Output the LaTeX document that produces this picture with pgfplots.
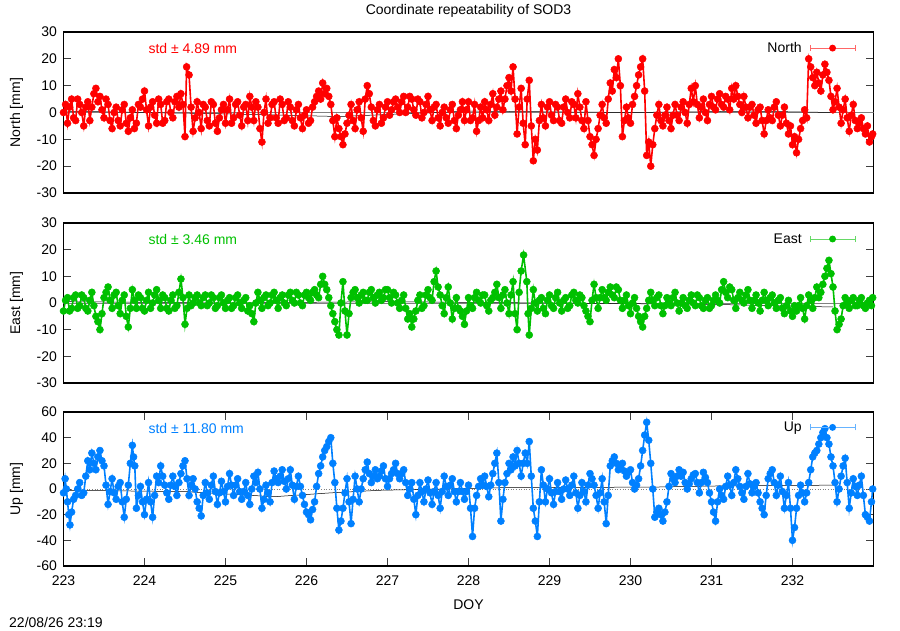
\documentclass[border=0pt]{standalone}
\usepackage{fontspec}
\setmainfont{Liberation Sans}
\usepackage{pgfplots}
\pgfplotsset{compat=1.18}
\definecolor{nred}{RGB}{255,0,0}
\definecolor{egreen}{RGB}{0,192,0}
\definecolor{ublue}{RGB}{0,128,255}
\newcommand{\fs}{\fontsize{14}{16}\selectfont}
\pgfplotsset{
  panel/.style={
    scale only axis, width=810pt, anchor=south west,
    xmin=223, xmax=233,
    axis line style={line width=1.3pt, black},
    tick style={line width=0.8pt, black!75},
    major tick length=8pt, tick align=inside,
    minor tick num=0,
    /pgf/number format/assume math mode=true,
    ticklabel style={font=\fs},
    yticklabel style={xshift=-3pt},
    every axis y label/.style={at={(axis description cs:-0.058,0.5)}, rotate=90, anchor=center, font=\fs},
    legend plot pos=right,
    legend style={draw=none, fill=none, inner sep=0pt, font=\fs, anchor=east, legend cell align=right,
      /tikz/every odd column/.append style={column sep=6pt}},
    clip=true,
  },
  errimg/.style={legend image code/.code={
    \draw[#1!60, line width=0.8pt] (0pt,0pt) -- (45pt,0pt);
    \draw[#1!60, line width=0.8pt] (0pt,-3pt) -- (0pt,3pt) (45pt,-3pt) -- (45pt,3pt);
    \fill[#1] (22.5pt,0pt) circle (2.6pt);
  }},
  dat/.style={#1, line width=1.6pt, mark=*, mark size=3.5pt, mark options={solid, fill=#1, draw=#1, line width=0.5pt}},
}
\begin{document}
\begin{tikzpicture}
\path[use as bounding box] (0,0) rectangle (900pt,630pt);
% ---------------- North ----------------
\begin{axis}[panel, at={(63.5pt,437pt)}, height=161pt,
  ymin=-30, ymax=30, ytick={-30,-20,...,30}, xtick=\empty,
  ylabel={North [mm]},
  title={Coordinate repeatability of SOD3},
  title style={at={(axis description cs:0.5,1)}, anchor=center, yshift=15pt, font=\fs},
  legend style={at={(axis description cs:0.978,0.90)}}]
\addplot[gray, line width=0.6pt, forget plot] coordinates {(223,0) (233,0)};
\addplot[black, line width=0.5pt, forget plot] coordinates {(223,0.5) (225,-0.5) (226.4,-1.5) (228,0.5) (230,0) (231.5,0.5) (232.5,0)};
\addplot[dat=nred, errimg=nred] table[row sep=\\] {
x y\\
223.00 0\\ 223.025 3\\ 223.05 -4\\ 223.075 2\\ 223.10 5\\ 223.125 -2\\ 223.15 -3\\ 223.175 5\\ 223.20 3\\ 223.225 0\\
223.25 -5\\ 223.275 2\\ 223.30 4\\ 223.325 -3\\ 223.35 2\\ 223.375 7\\ 223.40 9\\ 223.425 4\\ 223.45 6\\ 223.475 1\\
223.50 -2\\ 223.525 5\\ 223.55 3\\ 223.575 -3\\ 223.60 -6\\ 223.625 0\\ 223.65 2\\ 223.675 -3\\ 223.70 -5\\ 223.725 1\\
223.75 3\\ 223.775 -4\\ 223.80 -7\\ 223.825 -2\\ 223.85 1\\ 223.875 -6\\ 223.90 -4\\ 223.925 3\\ 223.95 2\\ 223.975 5\\
224.00 8\\ 224.025 1\\ 224.05 -5\\ 224.075 2\\ 224.10 4\\ 224.125 -1\\ 224.15 -4\\ 224.175 5\\ 224.20 3\\ 224.225 -4\\
224.25 -3\\ 224.275 4\\ 224.30 5\\ 224.325 0\\ 224.35 -2\\ 224.375 4\\ 224.40 6\\ 224.425 2\\ 224.45 7\\ 224.475 3\\
224.50 -9\\ 224.52 17\\ 224.55 14\\ 224.575 2\\ 224.60 -7\\ 224.625 -2\\ 224.65 4\\ 224.675 0\\ 224.70 -6\\ 224.725 3\\
224.75 2\\ 224.775 -3\\ 224.80 -5\\ 224.825 4\\ 224.85 3\\ 224.875 -4\\ 224.90 -7\\ 224.925 -2\\ 224.95 1\\ 224.975 3\\
225.00 -4\\ 225.025 1\\ 225.05 5\\ 225.075 -4\\ 225.10 -2\\ 225.125 3\\ 225.15 4\\ 225.175 -1\\ 225.20 -5\\ 225.225 2\\
225.25 3\\ 225.275 -3\\ 225.30 6\\ 225.325 2\\ 225.35 -3\\ 225.375 4\\ 225.40 2\\ 225.425 -6\\ 225.45 -11\\ 225.475 0\\
225.50 5\\ 225.525 -4\\ 225.55 -2\\ 225.575 3\\ 225.60 4\\ 225.625 -2\\ 225.65 -4\\ 225.675 5\\ 225.70 3\\ 225.725 -3\\
225.75 -2\\ 225.775 4\\ 225.80 2\\ 225.825 -3\\ 225.85 -5\\ 225.875 1\\ 225.90 3\\ 225.925 -2\\ 225.95 -6\\ 225.975 -1\\
226.00 1\\ 226.025 -4\\ 226.05 -3\\ 226.075 2\\ 226.10 4\\ 226.125 6\\ 226.15 8\\ 226.175 5\\ 226.20 11\\ 226.225 7\\
226.25 9\\ 226.275 6\\ 226.30 3\\ 226.325 -3\\ 226.35 -9\\ 226.375 -2\\ 226.40 -6\\ 226.425 -9\\ 226.45 -12\\ 226.475 -8\\
226.50 -4\\ 226.525 -1\\ 226.55 3\\ 226.575 -3\\ 226.60 -6\\ 226.625 1\\ 226.65 4\\ 226.675 -2\\ 226.70 -7\\ 226.725 5\\
226.75 10\\ 226.775 7\\ 226.80 2\\ 226.825 -3\\ 226.85 -5\\ 226.875 1\\ 226.90 3\\ 226.925 -4\\ 226.95 -2\\ 226.975 2\\
227.00 4\\ 227.025 -1\\ 227.05 1\\ 227.075 4\\ 227.10 5\\ 227.125 2\\ 227.15 0\\ 227.175 4\\ 227.20 6\\ 227.225 0\\
227.25 2\\ 227.275 6\\ 227.30 5\\ 227.325 1\\ 227.35 -1\\ 227.375 5\\ 227.40 4\\ 227.425 -2\\ 227.45 0\\ 227.475 3\\
227.50 6\\ 227.525 1\\ 227.55 -3\\ 227.575 2\\ 227.60 3\\ 227.625 -2\\ 227.65 -5\\ 227.675 0\\ 227.70 2\\ 227.725 -2\\
227.75 -4\\ 227.775 1\\ 227.80 3\\ 227.825 -3\\ 227.85 -6\\ 227.875 -1\\ 227.90 1\\ 227.925 4\\ 227.95 -3\\ 227.975 1\\
228.00 4\\ 228.025 -3\\ 228.05 -2\\ 228.075 3\\ 228.10 -7\\ 228.125 -3\\ 228.15 2\\ 228.175 -2\\ 228.20 4\\ 228.225 1\\
228.25 -3\\ 228.275 3\\ 228.30 7\\ 228.325 -1\\ 228.35 2\\ 228.375 5\\ 228.40 8\\ 228.425 1\\ 228.45 5\\ 228.475 10\\
228.50 13\\ 228.525 8\\ 228.55 17\\ 228.575 5\\ 228.60 -8\\ 228.625 2\\ 228.65 9\\ 228.675 -4\\ 228.70 -12\\ 228.725 5\\
228.75 12\\ 228.775 -5\\ 228.80 -18\\ 228.825 -10\\ 228.85 -14\\ 228.875 -3\\ 228.90 3\\ 228.925 -2\\ 228.95 -5\\ 228.975 2\\
229.00 4\\ 229.025 -1\\ 229.05 -3\\ 229.075 3\\ 229.10 2\\ 229.125 -3\\ 229.15 -4\\ 229.175 2\\ 229.20 5\\ 229.225 0\\
229.25 -2\\ 229.275 4\\ 229.30 3\\ 229.325 -2\\ 229.35 7\\ 229.375 2\\ 229.40 -3\\ 229.425 -6\\ 229.45 4\\ 229.475 -3\\
229.50 -9\\ 229.525 -12\\ 229.55 -16\\ 229.575 -10\\ 229.60 -6\\ 229.625 -1\\ 229.65 3\\ 229.675 -2\\ 229.70 -4\\ 229.725 5\\
229.75 11\\ 229.775 8\\ 229.80 16\\ 229.825 13\\ 229.85 20\\ 229.875 10\\ 229.90 -9\\ 229.925 -3\\ 229.95 2\\ 229.975 -2\\
230.00 -4\\ 230.025 3\\ 230.05 6\\ 230.075 10\\ 230.10 14\\ 230.125 17\\ 230.15 20\\ 230.175 8\\ 230.20 -16\\ 230.225 -11\\
230.25 -20\\ 230.275 -12\\ 230.30 -6\\ 230.325 -1\\ 230.35 3\\ 230.375 -3\\ 230.40 -5\\ 230.425 -1\\ 230.45 2\\ 230.475 -3\\
230.50 -6\\ 230.525 -1\\ 230.55 3\\ 230.575 -1\\ 230.60 -3\\ 230.625 2\\ 230.65 4\\ 230.675 0\\ 230.70 -4\\ 230.725 3\\
230.75 9\\ 230.775 4\\ 230.80 10\\ 230.825 3\\ 230.85 -2\\ 230.875 2\\ 230.90 5\\ 230.925 0\\ 230.95 -3\\ 230.975 3\\
231.00 6\\ 231.025 2\\ 231.05 1\\ 231.075 5\\ 231.10 7\\ 231.125 3\\ 231.15 2\\ 231.175 6\\ 231.20 5\\ 231.225 1\\
231.25 9\\ 231.275 5\\ 231.30 10\\ 231.325 6\\ 231.35 3\\ 231.375 0\\ 231.40 6\\ 231.425 2\\ 231.45 -2\\ 231.475 2\\
231.50 3\\ 231.525 -1\\ 231.55 -4\\ 231.575 1\\ 231.60 2\\ 231.625 -3\\ 231.65 -8\\ 231.675 -3\\ 231.70 1\\ 231.725 -2\\
231.75 -3\\ 231.775 2\\ 231.80 4\\ 231.825 -1\\ 231.85 -5\\ 231.875 -1\\ 231.90 2\\ 231.925 -4\\ 231.95 -8\\ 231.975 -5\\
232.00 -12\\ 232.025 -9\\ 232.05 -15\\ 232.075 -10\\ 232.10 -6\\ 232.125 -3\\ 232.15 1\\ 232.175 -2\\ 232.20 20\\ 232.225 17\\
232.25 13\\ 232.275 10\\ 232.30 15\\ 232.325 11\\ 232.35 8\\ 232.375 14\\ 232.40 18\\ 232.425 15\\ 232.45 12\\ 232.475 6\\
232.50 1\\ 232.525 4\\ 232.55 9\\ 232.575 2\\ 232.60 -4\\ 232.625 1\\ 232.65 5\\ 232.675 -2\\ 232.70 -7\\ 232.725 -1\\
232.75 3\\ 232.775 -3\\ 232.80 -6\\ 232.825 -4\\ 232.85 -2\\ 232.875 -6\\ 232.90 -8\\ 232.925 -5\\ 232.95 -11\\ 232.975 -9\\
232.99 -8\\
};
\addlegendentry{North}
\node[anchor=west, text=nred, font=\fs] at (axis description cs:0.1006,0.90) {std ± 4.89 mm};
\end{axis}
% ---------------- East ----------------
\begin{axis}[panel, at={(63.5pt,247pt)}, height=160pt,
  ymin=-30, ymax=30, ytick={-30,-20,...,30}, xtick=\empty,
  ylabel={East [mm]},
  legend style={at={(axis description cs:0.978,0.90)}}]
\addplot[gray, line width=0.6pt, forget plot] coordinates {(223,0) (233,0)};
\addplot[black, line width=0.5pt, forget plot] coordinates {(223,0.5) (225,0) (227,0.5) (229,0) (231,-0.5) (232.5,-1.5)};
\addplot[dat=egreen, errimg=egreen] table[row sep=\\] {
x y\\
223.00 -3\\ 223.025 1\\ 223.05 2\\ 223.075 -3\\ 223.10 -2\\ 223.125 2\\ 223.15 3\\ 223.175 -2\\ 223.20 -1\\ 223.225 3\\
223.25 2\\ 223.275 -2\\ 223.30 -3\\ 223.325 1\\ 223.35 4\\ 223.375 -1\\ 223.40 -5\\ 223.425 -7\\ 223.45 -10\\ 223.475 -4\\
223.50 2\\ 223.525 4\\ 223.55 6\\ 223.575 1\\ 223.60 -2\\ 223.625 3\\ 223.65 4\\ 223.675 -1\\ 223.70 -4\\ 223.725 1\\
223.75 3\\ 223.775 -5\\ 223.80 -9\\ 223.825 -2\\ 223.85 5\\ 223.875 1\\ 223.90 -2\\ 223.925 3\\ 223.95 2\\ 223.975 -2\\
224.00 -3\\ 224.025 1\\ 224.05 4\\ 224.075 -2\\ 224.10 0\\ 224.125 3\\ 224.15 5\\ 224.175 1\\ 224.20 -2\\ 224.225 3\\
224.25 2\\ 224.275 -2\\ 224.30 -3\\ 224.325 1\\ 224.35 3\\ 224.375 -2\\ 224.40 -1\\ 224.425 4\\ 224.45 9\\ 224.475 2\\
224.50 -8\\ 224.525 -2\\ 224.55 3\\ 224.575 -1\\ 224.60 0\\ 224.625 2\\ 224.65 3\\ 224.675 0\\ 224.70 -1\\ 224.725 2\\
224.75 3\\ 224.775 -1\\ 224.80 0\\ 224.825 3\\ 224.85 2\\ 224.875 -2\\ 224.90 -1\\ 224.925 2\\ 224.95 3\\ 224.975 0\\
225.00 -2\\ 225.025 1\\ 225.05 2\\ 225.075 -2\\ 225.10 -1\\ 225.125 2\\ 225.15 3\\ 225.175 0\\ 225.20 -2\\ 225.225 1\\
225.25 2\\ 225.275 -3\\ 225.30 -1\\ 225.325 -4\\ 225.35 -7\\ 225.375 0\\ 225.40 4\\ 225.425 1\\ 225.45 -2\\ 225.475 2\\
225.50 3\\ 225.525 -1\\ 225.55 0\\ 225.575 3\\ 225.60 4\\ 225.625 1\\ 225.65 -2\\ 225.675 2\\ 225.70 3\\ 225.725 0\\
225.75 -1\\ 225.775 3\\ 225.80 4\\ 225.825 1\\ 225.85 0\\ 225.875 4\\ 225.90 3\\ 225.925 0\\ 225.95 -1\\ 225.975 3\\
226.00 4\\ 226.025 2\\ 226.05 1\\ 226.075 4\\ 226.10 5\\ 226.125 3\\ 226.15 2\\ 226.175 7\\ 226.20 10\\ 226.225 7\\
226.25 5\\ 226.275 2\\ 226.30 -1\\ 226.325 -4\\ 226.35 -7\\ 226.375 -10\\ 226.40 -12\\ 226.425 0\\ 226.45 8\\ 226.475 -3\\
226.50 -12\\ 226.525 -4\\ 226.55 2\\ 226.575 4\\ 226.60 5\\ 226.625 2\\ 226.65 0\\ 226.675 3\\ 226.70 4\\ 226.725 1\\
226.75 1\\ 226.775 4\\ 226.80 5\\ 226.825 2\\ 226.85 0\\ 226.875 3\\ 226.90 4\\ 226.925 1\\ 226.95 2\\ 226.975 5\\
227.00 5\\ 227.025 2\\ 227.05 0\\ 227.075 4\\ 227.10 3\\ 227.125 0\\ 227.15 -2\\ 227.175 1\\ 227.20 3\\ 227.225 -2\\
227.25 -6\\ 227.275 -4\\ 227.30 -9\\ 227.325 -6\\ 227.35 -3\\ 227.375 1\\ 227.40 3\\ 227.425 -2\\ 227.45 -1\\ 227.475 3\\
227.50 5\\ 227.525 2\\ 227.55 1\\ 227.575 8\\ 227.60 12\\ 227.625 6\\ 227.65 3\\ 227.675 -1\\ 227.70 -4\\ 227.725 2\\
227.75 6\\ 227.775 0\\ 227.80 -6\\ 227.825 -2\\ 227.85 2\\ 227.875 -2\\ 227.90 -3\\ 227.925 -5\\ 227.95 -8\\ 227.975 -3\\
228.00 2\\ 228.025 -1\\ 228.05 -2\\ 228.075 2\\ 228.10 4\\ 228.125 1\\ 228.15 0\\ 228.175 3\\ 228.20 3\\ 228.225 -1\\
228.25 -3\\ 228.275 1\\ 228.30 2\\ 228.325 4\\ 228.35 7\\ 228.375 2\\ 228.40 -2\\ 228.425 3\\ 228.45 5\\ 228.475 0\\
228.50 -4\\ 228.525 3\\ 228.55 8\\ 228.575 -4\\ 228.60 -10\\ 228.625 4\\ 228.65 12\\ 228.68 18\\ 228.72 8\\ 228.735 -4\\
228.75 -12\\ 228.775 -2\\ 228.80 5\\ 228.825 0\\ 228.85 -3\\ 228.875 1\\ 228.90 2\\ 228.925 -2\\ 228.95 -4\\ 228.975 1\\
229.00 3\\ 229.025 -1\\ 229.05 -2\\ 229.075 2\\ 229.10 4\\ 229.125 0\\ 229.15 -3\\ 229.175 1\\ 229.20 2\\ 229.225 -2\\
229.25 -1\\ 229.275 3\\ 229.30 4\\ 229.325 1\\ 229.35 0\\ 229.375 3\\ 229.40 2\\ 229.425 -1\\ 229.45 -3\\ 229.475 -5\\
229.50 -7\\ 229.525 1\\ 229.55 7\\ 229.575 2\\ 229.60 -2\\ 229.625 2\\ 229.65 5\\ 229.675 2\\ 229.70 1\\ 229.725 4\\
229.75 6\\ 229.775 3\\ 229.80 2\\ 229.825 6\\ 229.85 5\\ 229.875 1\\ 229.90 -2\\ 229.925 1\\ 229.95 3\\ 229.975 -1\\
230.00 -4\\ 230.025 0\\ 230.05 2\\ 230.075 -2\\ 230.10 -5\\ 230.125 -7\\ 230.15 -9\\ 230.175 -5\\ 230.20 -2\\ 230.225 1\\
230.25 4\\ 230.275 1\\ 230.30 -1\\ 230.325 2\\ 230.35 3\\ 230.375 -1\\ 230.40 -4\\ 230.425 -1\\ 230.45 2\\ 230.475 0\\
230.50 -1\\ 230.525 2\\ 230.55 4\\ 230.575 0\\ 230.60 -3\\ 230.625 0\\ 230.65 2\\ 230.675 -1\\ 230.70 -2\\ 230.725 1\\
230.75 3\\ 230.775 0\\ 230.80 -1\\ 230.825 3\\ 230.85 2\\ 230.875 -1\\ 230.90 -2\\ 230.925 1\\ 230.95 2\\ 230.975 -2\\
231.00 -1\\ 231.025 1\\ 231.05 3\\ 231.075 1\\ 231.10 0\\ 231.125 5\\ 231.15 8\\ 231.175 4\\ 231.20 2\\ 231.225 6\\
231.25 5\\ 231.275 1\\ 231.30 -2\\ 231.325 2\\ 231.35 4\\ 231.375 1\\ 231.40 0\\ 231.425 3\\ 231.45 5\\ 231.475 1\\
231.50 -2\\ 231.525 1\\ 231.55 3\\ 231.575 0\\ 231.60 -3\\ 231.625 1\\ 231.65 4\\ 231.675 1\\ 231.70 -1\\ 231.725 2\\
231.75 3\\ 231.775 0\\ 231.80 -2\\ 231.825 1\\ 231.85 2\\ 231.875 -2\\ 231.90 -4\\ 231.925 -1\\ 231.95 1\\ 231.975 -3\\
232.00 -5\\ 232.025 -1\\ 232.05 -3\\ 232.075 -1\\ 232.10 2\\ 232.125 -2\\ 232.15 -6\\ 232.175 -1\\ 232.20 3\\ 232.225 1\\
232.25 -2\\ 232.275 2\\ 232.30 6\\ 232.325 2\\ 232.35 4\\ 232.375 7\\ 232.40 10\\ 232.425 13\\ 232.45 16\\ 232.475 11\\
232.50 6\\ 232.525 -3\\ 232.55 -10\\ 232.575 -8\\ 232.60 -6\\ 232.625 -1\\ 232.65 2\\ 232.675 0\\ 232.70 -2\\ 232.725 1\\
232.75 2\\ 232.775 -1\\ 232.80 -1\\ 232.825 1\\ 232.85 2\\ 232.875 -1\\ 232.90 -2\\ 232.925 0\\ 232.95 1\\ 232.975 -1\\
232.99 2\\
};
\addlegendentry{East}
\node[anchor=west, text=egreen, font=\fs] at (axis description cs:0.1006,0.90) {std ± 3.46 mm};
\end{axis}
% ---------------- Up ----------------
\begin{axis}[panel, at={(63.5pt,64pt)}, height=154pt,
  ymin=-60, ymax=60, ytick={-60,-40,...,60},
  xtick={223,224,...,232},
  /pgf/number format/1000 sep={},
  xticklabel style={yshift=-6pt},
  ylabel={Up [mm]}, xlabel={DOY},
  xlabel style={at={(axis description cs:0.5,0)}, anchor=center, yshift=-39pt, font=\fs},
  legend style={at={(axis description cs:0.978,0.90)}}]
\addplot[gray, dotted, line width=0.6pt, forget plot] coordinates {(223,0) (233,0)};
\addplot[black, line width=0.5pt, forget plot] coordinates {(223,-1) (224.5,-2) (225.6,-6) (226.3,-3) (226.9,-1) (228.4,1) (230.3,1.5) (231.1,2.4) (232.5,3)};
\addplot[dat=ublue, errimg=ublue] table[row sep=\\] {
x y\\
223.00 -3\\ 223.02 8\\ 223.035 0\\ 223.05 -10\\ 223.065 -20\\ 223.08 -28\\ 223.10 -18\\ 223.125 -8\\ 223.15 -5\\ 223.175 0\\
223.20 5\\ 223.225 -5\\ 223.25 -3\\ 223.275 10\\ 223.30 22\\ 223.325 15\\ 223.35 28\\ 223.375 20\\ 223.40 15\\ 223.425 25\\
223.45 30\\ 223.475 22\\ 223.50 18\\ 223.525 3\\ 223.55 -12\\ 223.575 -2\\ 223.60 8\\ 223.625 -3\\ 223.65 -8\\ 223.675 2\\
223.70 5\\ 223.725 -10\\ 223.75 -22\\ 223.775 -8\\ 223.80 3\\ 223.825 20\\ 223.85 34\\ 223.865 25\\ 223.88 18\\ 223.90 -15\\
223.925 -5\\ 223.95 2\\ 223.975 -10\\ 224.00 -20\\ 224.025 -8\\ 224.05 5\\ 224.075 -10\\ 224.10 -22\\ 224.125 -5\\ 224.15 10\\
224.175 5\\ 224.20 18\\ 224.225 10\\ 224.25 3\\ 224.275 -3\\ 224.30 -8\\ 224.325 3\\ 224.35 10\\ 224.375 2\\ 224.40 -5\\
224.425 5\\ 224.45 12\\ 224.475 18\\ 224.50 22\\ 224.525 8\\ 224.55 -5\\ 224.575 3\\ 224.60 8\\ 224.625 0\\ 224.65 -10\\
224.675 -15\\ 224.70 -21\\ 224.725 -5\\ 224.75 5\\ 224.775 -3\\ 224.80 -8\\ 224.825 3\\ 224.85 10\\ 224.875 -2\\ 224.90 -12\\
224.925 -3\\ 224.95 6\\ 224.975 -2\\ 225.00 -10\\ 225.025 2\\ 225.05 12\\ 225.075 3\\ 225.10 -5\\ 225.125 3\\ 225.15 8\\
225.175 -2\\ 225.20 -8\\ 225.225 -2\\ 225.25 5\\ 225.275 -5\\ 225.30 -12\\ 225.325 0\\ 225.35 10\\ 225.375 5\\ 225.40 13\\
225.425 0\\ 225.45 -15\\ 225.475 -8\\ 225.50 3\\ 225.525 -3\\ 225.55 -10\\ 225.575 5\\ 225.60 14\\ 225.625 8\\ 225.65 5\\
225.675 10\\ 225.70 15\\ 225.725 6\\ 225.75 0\\ 225.775 8\\ 225.80 15\\ 225.825 3\\ 225.85 -8\\ 225.875 2\\ 225.90 10\\
225.925 2\\ 225.95 -5\\ 225.975 -12\\ 226.00 -18\\ 226.025 -20\\ 226.05 -24\\ 226.075 -16\\ 226.10 -10\\ 226.125 2\\ 226.15 12\\
226.175 18\\ 226.20 25\\ 226.225 30\\ 226.25 33\\ 226.275 37\\ 226.30 40\\ 226.325 20\\ 226.35 5\\ 226.375 -15\\ 226.40 -32\\
226.425 -25\\ 226.45 -15\\ 226.475 -3\\ 226.50 8\\ 226.525 -10\\ 226.55 -27\\ 226.575 -8\\ 226.60 10\\ 226.625 0\\ 226.65 -10\\
226.675 0\\ 226.70 8\\ 226.725 15\\ 226.75 21\\ 226.775 12\\ 226.80 5\\ 226.825 10\\ 226.85 15\\ 226.875 8\\ 226.90 10\\
226.925 14\\ 226.95 18\\ 226.975 8\\ 227.00 2\\ 227.025 8\\ 227.05 12\\ 227.075 15\\ 227.10 20\\ 227.125 12\\ 227.15 8\\
227.175 12\\ 227.20 15\\ 227.225 5\\ 227.25 -5\\ 227.275 0\\ 227.30 5\\ 227.325 -8\\ 227.35 -20\\ 227.375 -5\\ 227.40 5\\
227.425 -2\\ 227.45 -10\\ 227.475 0\\ 227.50 7\\ 227.525 -3\\ 227.55 -12\\ 227.575 -2\\ 227.60 5\\ 227.625 -5\\ 227.65 -15\\
227.675 -2\\ 227.70 10\\ 227.725 2\\ 227.75 -5\\ 227.775 3\\ 227.80 8\\ 227.825 -2\\ 227.85 -10\\ 227.875 -2\\ 227.90 5\\
227.925 -2\\ 227.95 -8\\ 227.975 -2\\ 228.00 3\\ 228.025 -15\\ 228.05 -37\\ 228.075 -15\\ 228.10 -5\\ 228.125 2\\ 228.15 8\\
228.175 3\\ 228.20 10\\ 228.225 2\\ 228.25 -6\\ 228.275 3\\ 228.30 12\\ 228.325 20\\ 228.35 28\\ 228.375 5\\ 228.40 -25\\
228.425 -8\\ 228.45 5\\ 228.475 12\\ 228.50 20\\ 228.525 15\\ 228.55 25\\ 228.575 18\\ 228.60 30\\ 228.625 20\\ 228.65 10\\
228.675 20\\ 228.70 28\\ 228.725 20\\ 228.75 37\\ 228.775 10\\ 228.80 -15\\ 228.825 -25\\ 228.85 -37\\ 228.875 -10\\ 228.90 15\\
228.925 3\\ 228.95 -10\\ 228.975 0\\ 229.00 8\\ 229.025 -3\\ 229.05 -12\\ 229.075 -2\\ 229.10 5\\ 229.125 -2\\ 229.15 -8\\
229.175 0\\ 229.20 7\\ 229.225 0\\ 229.25 -5\\ 229.275 3\\ 229.30 10\\ 229.325 -3\\ 229.35 -15\\ 229.375 -5\\ 229.40 5\\
229.425 -2\\ 229.45 -10\\ 229.475 3\\ 229.50 12\\ 229.525 8\\ 229.55 3\\ 229.575 -5\\ 229.60 -15\\ 229.625 -3\\ 229.65 8\\
229.675 -10\\ 229.70 -27\\ 229.725 -5\\ 229.75 18\\ 229.775 22\\ 229.80 25\\ 229.825 20\\ 229.85 15\\ 229.875 18\\ 229.90 20\\
229.925 14\\ 229.95 10\\ 229.975 13\\ 230.00 15\\ 230.025 5\\ 230.05 0\\ 230.075 3\\ 230.10 8\\ 230.125 18\\ 230.15 30\\
230.175 42\\ 230.20 52\\ 230.225 38\\ 230.25 20\\ 230.275 0\\ 230.30 -22\\ 230.325 -18\\ 230.35 -15\\ 230.375 -20\\ 230.40 -25\\
230.425 -18\\ 230.45 -10\\ 230.475 2\\ 230.50 12\\ 230.525 8\\ 230.55 5\\ 230.575 10\\ 230.60 15\\ 230.625 10\\ 230.65 13\\
230.675 5\\ 230.70 0\\ 230.725 4\\ 230.75 8\\ 230.775 11\\ 230.80 12\\ 230.825 5\\ 230.85 -3\\ 230.875 5\\ 230.90 13\\
230.925 9\\ 230.95 5\\ 230.975 -3\\ 231.00 -10\\ 231.025 -18\\ 231.05 -25\\ 231.075 -10\\ 231.10 0\\ 231.125 -5\\ 231.15 -8\\
231.175 2\\ 231.20 10\\ 231.225 3\\ 231.25 -5\\ 231.275 5\\ 231.30 15\\ 231.325 8\\ 231.35 2\\ 231.375 -3\\ 231.40 -8\\
231.425 2\\ 231.45 12\\ 231.475 4\\ 231.50 -3\\ 231.525 2\\ 231.55 5\\ 231.575 -3\\ 231.60 -10\\ 231.625 -15\\ 231.65 -20\\
231.675 -5\\ 231.70 8\\ 231.725 12\\ 231.75 15\\ 231.775 5\\ 231.80 -5\\ 231.825 3\\ 231.85 10\\ 231.875 -2\\ 231.90 -15\\
231.925 -5\\ 231.95 5\\ 231.975 -15\\ 232.00 -40\\ 232.025 -30\\ 232.05 -15\\ 232.075 -5\\ 232.10 3\\ 232.125 -3\\ 232.15 -10\\
232.175 -3\\ 232.20 5\\ 232.225 15\\ 232.25 25\\ 232.275 28\\ 232.30 30\\ 232.325 35\\ 232.35 40\\ 232.375 44\\ 232.40 47\\
232.425 40\\ 232.45 35\\ 232.475 25\\ 232.50 18\\ 232.525 5\\ 232.55 -10\\ 232.575 0\\ 232.60 10\\ 232.625 18\\ 232.65 24\\
232.675 5\\ 232.70 -15\\ 232.725 -3\\ 232.75 8\\ 232.775 2\\ 232.80 -5\\ 232.825 3\\ 232.85 10\\ 232.875 -5\\ 232.90 -20\\
232.925 -22\\ 232.95 -25\\ 232.975 -10\\ 232.99 0\\
};
\addlegendentry{Up}
\node[anchor=west, text=ublue, font=\fs] at (axis description cs:0.1006,0.896) {std ± 11.80 mm};
\end{axis}
\node[anchor=west, font=\fs, inner sep=0pt] at (9pt,8pt) {22/08/26 23:19};
\end{tikzpicture}
\end{document}
